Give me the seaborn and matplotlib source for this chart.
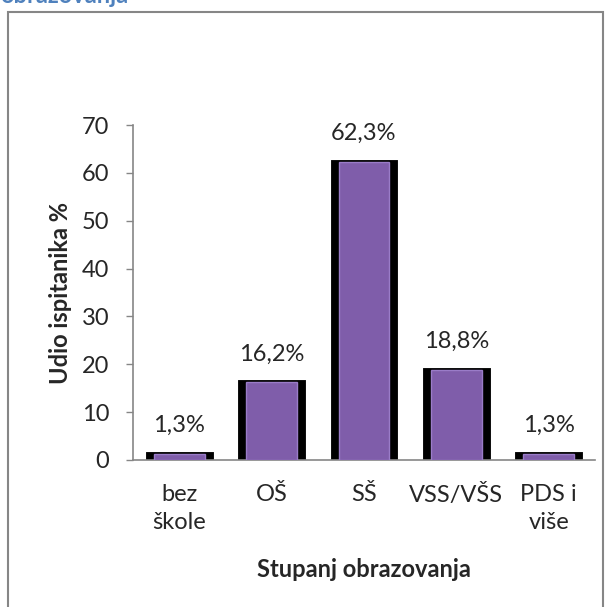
import matplotlib
matplotlib.use("Agg")
import matplotlib.pyplot as plt
import seaborn as sns
from matplotlib.patches import Rectangle

# data
categories = ["bez\nškole", "OŠ", "SŠ", "VSS/VŠS", "PDS i\nviše"]
shares = [1.3, 16.2, 62.3, 18.8, 1.3]
y_ticks = [0, 10, 20, 30, 40, 50, 60, 70]

PURPLE = "#7F5DAA"
GRAY = "#868686"
W, H = 613, 607
FS = 17

sns.set_theme(style="white")
plt.rcParams['font.family'] = ['Lato', 'DejaVu Sans']

fig = plt.figure(figsize=(W / 100, H / 100), dpi=100)
ax = fig.add_axes([133 / W, 1 - 460 / H, 462 / W, 335 / H])

# black "shadow" block behind each bar, then the purple bar itself
sns.barplot(x=categories, y=shares, ax=ax, color="black", saturation=1,
            width=0.68, edgecolor="black", linewidth=3.5, zorder=2)
sns.barplot(x=categories, y=shares, ax=ax, color=PURPLE, saturation=1,
            width=0.55, edgecolor="#9A7CC8", linewidth=1.0, zorder=3)

labels = [f"{v:.1f}".replace(".", ",") + "%" for v in shares]
ax.bar_label(ax.containers[1], labels=labels, padding=13, fontsize=FS)

ax.set_ylim(0, 70)
ax.set_yticks(y_ticks)
ax.set_xlim(-0.5, len(categories) - 0.5)

for side in ["top", "right"]:
    ax.spines[side].set_visible(False)
for side in ["left", "bottom"]:
    ax.spines[side].set_color(GRAY)
    ax.spines[side].set_linewidth(1.2)

ax.tick_params(axis="y", length=5, width=1, color=GRAY, pad=12, labelsize=FS,
               left=True)
ax.tick_params(axis="x", length=0, pad=17, labelsize=FS)
for t in ax.get_xticklabels():
    t.set_linespacing(1.45)
    t.set_verticalalignment("top")

ax.set_ylabel("")
ylab = ax.text(-0.158, 0.5, "Udio ispitanika %", transform=ax.transAxes,
               rotation=90, ha="center", va="center", fontsize=FS,
               fontweight="bold")
ax.set_xlabel("")
ax.text(0.5, -0.328, "Stupanj obrazovanja", transform=ax.transAxes,
        ha="center", va="center", fontsize=FS, fontweight="bold")

# chart frame and cut-off title from the page
fig.patches.append(Rectangle((8 / W, -0.05), 595 / W, 1.05 - 12 / H,
                             transform=fig.transFigure, fill=False,
                             edgecolor=GRAY, linewidth=1.5))
fig.text(0.0, 1 - 3 / H, "obrazovanja", color="#4F81BD", fontsize=17,
         fontweight="bold", va="baseline", ha="left")

fig.canvas.draw()
print("ylabel bbox", ylab.get_window_extent())
print("tick bbox", ax.get_yticklabels()[-1].get_window_extent())
fig.savefig("out.png", dpi=100)
